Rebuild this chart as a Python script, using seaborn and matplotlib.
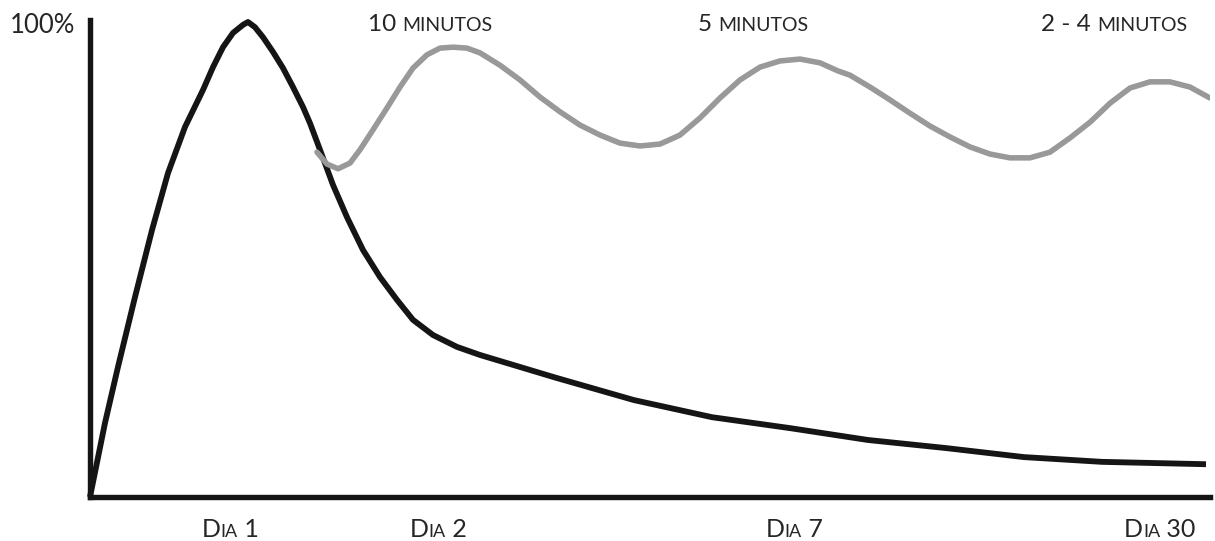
import matplotlib
matplotlib.use("Agg")
import matplotlib.pyplot as plt
import seaborn as sns
from matplotlib.transforms import IdentityTransform

# ---------------- data ----------------
# x: time position along the axis (arbitrary units, 0 = start), y: retention in percent
# black curve: retention after a single study session
black_x = [0, 15, 28, 45, 62, 78, 95, 113, 123, 133, 143, 153, 158, 165, 173,
           183, 193, 203, 213, 220, 230, 243, 257, 273, 290, 307, 323, 343, 367,
           390, 466, 544, 622, 700, 778, 856, 934, 1012, 1116]
black_y = [0, 15.6, 27.4, 42.1, 56.2, 68.2, 77.9, 85.7, 90.5, 94.7, 97.7, 99.4,
           100, 98.9, 96.8, 93.7, 90.3, 86.3, 82.1, 78.7, 73.1, 65.7, 58.9, 52.0,
           46.3, 41.5, 37.3, 34.1, 31.6, 29.9, 25.1, 20.4, 16.8, 14.5, 12.0, 10.3,
           8.4, 7.4, 6.9]

# gray curve: retention with reviews
gray_x = [227, 237, 248, 260, 270, 283, 297, 310, 323, 337, 350, 363, 377, 390, 410,
          430, 450, 470, 490, 510, 530, 550, 570, 590, 610, 630, 650, 670, 690, 710,
          730, 748, 760, 780, 800, 820, 840, 860, 880, 900, 920, 940, 960, 980, 1000,
          1020, 1040, 1060, 1080, 1100, 1120]
gray_y = [72.6, 70.1, 69.1, 70.3, 73.1, 77.3, 81.9, 86.3, 90.3, 93.1, 94.5, 94.7, 94.5,
          93.5, 90.9, 87.8, 84.2, 81.1, 78.3, 76.2, 74.5, 73.9, 74.3, 76.2, 79.8, 84.0,
          87.8, 90.5, 91.8, 92.2, 91.4, 89.7, 88.8, 86.3, 83.6, 80.8, 78.1, 75.8, 73.7,
          72.2, 71.4, 71.4, 72.6, 75.6, 78.9, 82.9, 86.1, 87.4, 87.4, 86.3, 84.0]

day_labels = ["Dia 1", "Dia 2", "Dia 7", "Dia 30"]
day_pos = [140, 348, 704, 1070]

review_labels = ["10 minutos", "5 minutos", "2 - 4 minutos"]
review_pos = [340, 663, 1024]

top_label = "100%"

# ---------------- style ----------------
sns.set_style("white")
plt.rcParams["font.family"] = ["Lato", "DejaVu Sans"]

W, H = 1215, 541
fig = plt.figure(figsize=(W / 100, H / 100), dpi=100)
ax_left, ax_right, ax_bottom, ax_top = 90, 1210, 497, 20
ax = fig.add_axes([ax_left / W, (H - ax_bottom) / H,
                   (ax_right - ax_left) / W, (ax_bottom - ax_top) / H])

sns.lineplot(x=black_x, y=black_y, color="#151515", lw=4.2, sort=False, ax=ax,
             solid_joinstyle="round", solid_capstyle="butt", clip_on=False)
sns.lineplot(x=gray_x, y=gray_y, color="#999999", lw=4.0, sort=False, ax=ax,
             solid_joinstyle="round", solid_capstyle="round")

ax.set_xlim(0, 1120)
ax.set_ylim(0, 100 * (ax_bottom - ax_top) / (ax_bottom - 22))
for s in ["top", "right"]:
    ax.spines[s].set_visible(False)
for s in ["left", "bottom"]:
    ax.spines[s].set_linewidth(3.9)
    ax.spines[s].set_color("#151515")
    ax.spines[s].set_capstyle("projecting")
ax.set_xticks(day_pos)
ax.set_xticklabels([])
ax.set_yticks([])
ax.tick_params(axis="x", length=0)
ax.set_xlabel("")
ax.set_ylabel("")

renderer = fig.canvas.get_renderer()
TXT = "#262626"


def smallcaps(xc, y_base, text, big, small):
    runs = []
    for ch in text:
        low = ch.islower()
        if runs and runs[-1][1] == low:
            runs[-1][0] += ch
        else:
            runs.append([ch, low])
    objs = []
    for s, low in runs:
        t = fig.text(0, 0, s.upper() if low else s, fontsize=small if low else big,
                     color=TXT, transform=IdentityTransform(), va="baseline", ha="left")
        objs.append(t)
    widths = [o.get_window_extent(renderer).width for o in objs]
    x = xc - sum(widths) / 2
    for o, w in zip(objs, widths):
        o.set_position((x, y_base))
        x += w


for lab, p in zip(day_labels, day_pos):
    xp = ax.transData.transform((p, 0))[0]
    smallcaps(xp, 4, lab, 18, 13)

for lab, p in zip(review_labels, review_pos):
    xp = ax.transData.transform((p, 0))[0]
    smallcaps(xp, 510, lab, 17.5, 14)

fig.text(10, 508, top_label, fontsize=18.5, color=TXT, transform=IdentityTransform(),
         va="baseline", ha="left")

fig.savefig("out.png", dpi=100, facecolor="white")
